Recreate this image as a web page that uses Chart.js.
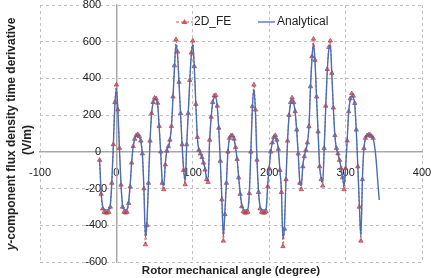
<!DOCTYPE html>
<html>
<head>
<meta charset="utf-8">
<script src="https://cdn.jsdelivr.net/npm/chart.js@4.4.0/dist/chart.umd.min.js"></script>
<style>
  html, body { margin: 0; padding: 0; background: #fff; }
  canvas { display: block; }
</style>
</head>
<body>
<canvas id="flux" width="442" height="278"></canvas>
<script>
// rotor angle in degrees, first sample and spacing
var angleStart = -22;
var angleStep = 2;

// 2D finite element result (V/m)
var fe = [
  -45, -230, -310, -328, -332, -332, -328, -300, -170, 40, 270,
  365, 230, 20, -180, -300, -328, -332, -328, -280, -190,
  -60, 30, 70, 90, 95, 85, 60, -10, -200, -505,
  -400, -170, 60, 210, 270, 294, 290, 266, 140, 0,
  -170, -205, -70, 5, 30, 65, 140, 300, 470, 612,
  545, 380, 210, 40, -100, -178, 40, 210, 390, 540,
  605, 465, 260, 80, 10, -10, -30, -60, -98, -150,
  -165, 65, 190, 270, 305, 308, 250, 130, -50, -260,
  -485, -340, -170, 0, 75, 88, 88, 70, 25, -40,
  -140, -230, -298, -325, -332, -332, -328, -226, 0, 247,
  365, 229, -44, -220, -310, -328, -332, -332, -325, -189,
  -90, 0, 50, 80, 90, 65, 15, -100, -220, -515,
  -420, -150, 60, 200, 270, 295, 270, 220, 120, -10,
  -170, -205, -80, -25, 10, 50, 138, 356, 520, 615,
  500, 300, 110, -80, -150, -185, 20, 250, 450, 570,
  605, 429, 240, 90, 20, -10, -45, -90, -140, -205,
  -90, 60, 220, 290, 318, 305, 265, 120, -80, -300,
  -485, -150, 20, 75, 88, 93, 93, 85, 75, null,
  null, null, null
];

// analytical model (V/m)
var analytical = [
  -40, -215, -295, -312, -316, -316, -312, -290, -165, 35, 255,
  342, 220, 15, -175, -290, -312, -316, -312, -270, -180,
  -55, 30, 68, 88, 92, 82, 55, -15, -200, -465,
  -380, -165, 55, 205, 265, 288, 284, 260, 135, -5,
  -160, -185, -65, 5, 28, 62, 135, 290, 455, 585,
  530, 370, 205, 38, -95, -160, 38, 205, 380, 525,
  585, 455, 255, 78, 10, -10, -28, -58, -92, -140,
  -150, 60, 185, 265, 295, 298, 245, 125, -50, -250,
  -460, -325, -165, 0, 72, 85, 85, 68, 22, -40,
  -135, -222, -285, -310, -316, -316, -312, -218, 0, 240,
  342, 220, -42, -210, -295, -312, -316, -316, -310, -182,
  -86, 0, 48, 78, 88, 62, 12, -98, -212, -475,
  -400, -145, 58, 195, 265, 288, 265, 215, 115, -12,
  -160, -185, -75, -22, 10, 48, 135, 345, 505, 590,
  485, 292, 105, -78, -140, -165, 20, 242, 440, 555,
  585, 418, 235, 88, 18, -10, -42, -85, -135, -185,
  -85, 58, 215, 282, 305, 295, 258, 115, -78, -290,
  -460, -145, 20, 72, 86, 92, 92, 84, 72, 30,
  -45, -155, -262
];

var xTitle = 'Rotor mechanical angle (degree)';
var yTitle1 = '-component flux density time derivative';
var yTitle2 = '(V/m)';

var feColor = '#d9534f';
var anaColor = '#4a6db3';
var tickFont = { family: '"Liberation Sans", Arial, sans-serif', size: 11 };

var toPoints = function(vals) {
  var pts = [];
  for (var i = 0; i < vals.length; i++) {
    pts.push({x: angleStart + i * angleStep, y: vals[i]});
  }
  return pts;
};

// no extra room for the axes, they sit inside the plot at 0
var noRoom = function(s) {
  if (s.isHorizontal()) s.height = 0; else s.width = 0;
  s.paddingTop = 0; s.paddingBottom = 0;
  s.paddingLeft = 0; s.paddingRight = 0;
};

// axis titles + legend drawn by hand, Excel style
var decor = {
  id: 'decor',
  afterDraw: function(chart) {
    var c = chart.ctx;
    c.save();
    c.fillStyle = '#222';
    c.textBaseline = 'middle';

    // y title, two lines rotated
    c.save();
    c.translate(12, 134);
    c.rotate(-Math.PI / 2);
    c.font = 'italic bold 12px "Liberation Sans", Arial, sans-serif';
    var wy = c.measureText('y').width;
    c.font = 'bold 12px "Liberation Sans", Arial, sans-serif';
    var w1 = c.measureText(yTitle1).width;
    var sx = -(wy + w1) / 2;
    c.textAlign = 'left';
    c.font = 'italic bold 12px "Liberation Sans", Arial, sans-serif';
    c.fillText('y', sx, 0);
    c.font = 'bold 12px "Liberation Sans", Arial, sans-serif';
    c.fillText(yTitle1, sx + wy, 0);
    c.textAlign = 'center';
    c.fillText(yTitle2, -6, 16);
    c.restore();

    // x title
    c.font = 'bold 11.5px "Liberation Sans", Arial, sans-serif';
    c.textAlign = 'center';
    c.fillText(xTitle, 231, 271);

    // legend
    var ly = 22;
    c.font = '12px "Liberation Sans", Arial, sans-serif';
    c.textAlign = 'left';
    c.strokeStyle = feColor;
    c.lineWidth = 1;
    c.setLineDash([3, 2]);
    c.beginPath(); c.moveTo(176, ly); c.lineTo(193, ly); c.stroke();
    c.setLineDash([]);
    c.fillStyle = feColor;
    c.beginPath(); c.moveTo(184.5, ly - 3); c.lineTo(187.5, ly + 2); c.lineTo(181.5, ly + 2); c.closePath(); c.fill();
    c.fillStyle = '#222';
    c.fillText('2D_FE', 194, ly);
    c.strokeStyle = anaColor;
    c.lineWidth = 1.3;
    c.beginPath(); c.moveTo(258, ly); c.lineTo(275, ly); c.stroke();
    c.fillText('Analytical', 277, ly);
    c.restore();
  }
};

var ctx = document.getElementById('flux');
var fluxChart = new Chart(ctx, {
  type: 'line',
  data: {
    datasets: [
      {
        label: '2D_FE',
        data: toPoints(fe),
        borderColor: feColor,
        borderWidth: 1,
        borderDash: [2, 2],
        pointStyle: 'triangle',
        pointRadius: 2.5,
        pointBackgroundColor: 'rgba(217,83,79,0.7)',
        pointBorderColor: 'rgba(160,60,80,0.9)',
        pointBorderWidth: 0.8,
        cubicInterpolationMode: 'monotone',
        spanGaps: false,
        order: 1
      },
      {
        label: 'Analytical',
        data: toPoints(analytical),
        borderColor: anaColor,
        borderWidth: 1.4,
        pointRadius: 0,
        cubicInterpolationMode: 'monotone',
        order: 0
      }
    ]
  },
  options: {
    responsive: false,
    animation: false,
    layout: { padding: { left: 40, right: 20, top: 5, bottom: 16 } },
    plugins: { legend: { display: false }, tooltip: { enabled: false } },
    scales: {
      x: {
        type: 'linear',
        position: { y: 0 },
        min: -100, max: 400,
        afterFit: noRoom,
        ticks: { stepSize: 100, padding: 15, color: '#222', font: tickFont },
        grid: { color: '#c0c0c0', drawTicks: false, tickLength: 0 },
        border: { color: '#a8a8a8', width: 1.5, dash: [3, 3] }
      },
      y: {
        position: { x: 0 },
        min: -600, max: 800,
        afterFit: noRoom,
        ticks: {
          stepSize: 200, color: '#222', font: tickFont,
          // Excel leaves a wider gap after positive numbers
          callback: function(v) { return v >= 0 ? v + '     ' : v + '   '; }
        },
        grid: { color: '#c0c0c0', drawTicks: false, tickLength: 0 },
        border: { color: '#a8a8a8', width: 1.5, dash: [3, 3] }
      }
    }
  },
  plugins: [decor]
});
</script>
</body>
</html>
